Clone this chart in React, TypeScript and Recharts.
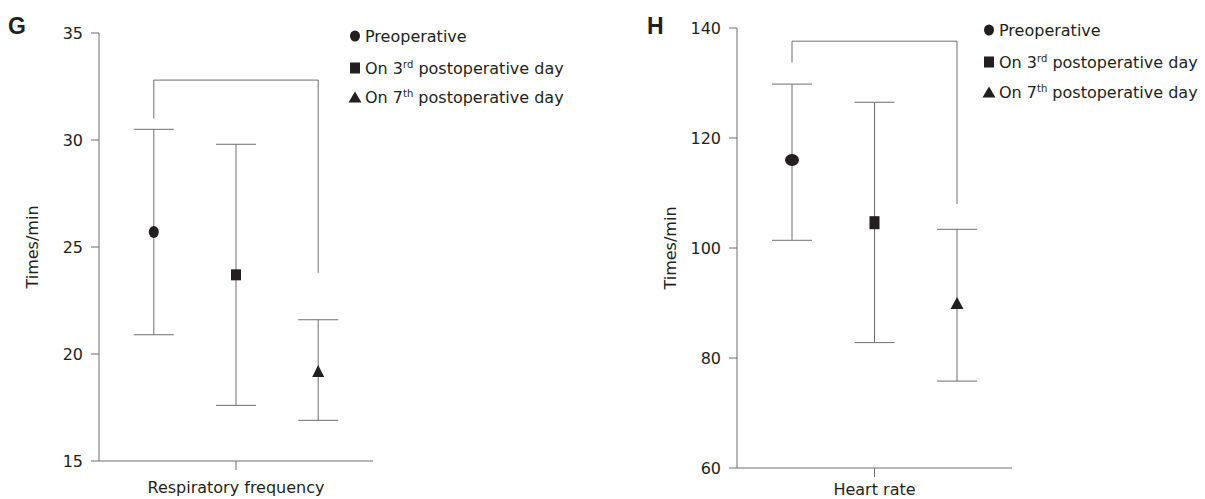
import React from "react";
import {
  ComposedChart,
  Scatter,
  ErrorBar,
  XAxis,
  YAxis,
  ReferenceLine,
} from "recharts";

const groups = [
  "Preoperative",
  "On 3rd postoperative day",
  "On 7th postoperative day",
];
const positions = [1, 2, 3];

// respiratory frequency (times/min)
const respMean = [25.7, 23.7, 19.2];
const respLow = [20.9, 17.6, 16.9];
const respHigh = [30.5, 29.8, 21.6];
const respTicks = [15, 20, 25, 30, 35];
const respBracket = [32.8, 31.0, 23.8]; // top, left end, right end

// heart rate (times/min)
const hrMean = [116, 104.6, 90];
const hrLow = [101.4, 82.8, 75.8];
const hrHigh = [129.8, 126.5, 103.4];
const hrTicks = [60, 80, 100, 120, 140];
const hrBracket = [137.6, 133.7, 108];

const INK = "#231f20";
const LINE = "#6d6e71";
const FONT = "'DejaVu Sans', Verdana, sans-serif";

type Kind = "circle" | "square" | "triangle";
const kinds: Kind[] = ["circle", "square", "triangle"];

const marker = (kind: Kind, w: number, h: number) => (props: any) => {
  const { cx, cy } = props;
  if (cx == null || cy == null) return <g />;
  if (kind === "circle")
    return <ellipse cx={cx} cy={cy} rx={w / 2} ry={h / 2} fill={INK} />;
  if (kind === "square")
    return <rect x={cx - w / 2} y={cy - h / 2} width={w} height={h} fill={INK} />;
  return (
    <path
      d={`M${cx},${cy - h / 2}L${cx + w / 2},${cy + h / 2}L${cx - w / 2},${cy + h / 2}Z`}
      fill={INK}
    />
  );
};

const seriesData = (mean: number[], low: number[], high: number[], i: number) => [
  { pos: positions[i], value: mean[i], err: [mean[i] - low[i], high[i] - mean[i]] },
];

const yLabel = (x: number) => (props: any) => {
  const vb = props.viewBox || {};
  const cy = (vb.y ?? 0) + (vb.height ?? 0) / 2;
  return (
    <text
      x={x}
      y={cy}
      transform={`rotate(-90, ${x}, ${cy})`}
      textAnchor="middle"
      dominantBaseline="central"
      fontSize={16}
      fill={INK}
      fontFamily={FONT}
    >
      Times/min
    </text>
  );
};

interface PanelProps {
  left: number;
  width: number;
  margin: { top: number; right: number; bottom: number; left: number };
  yWidth: number;
  domain: [number, number];
  ticks: number[];
  mean: number[];
  low: number[];
  high: number[];
  bracket: number[];
  title: string;
  tickMargin: number;
  sizes: [number, number][];
}

function Panel(p: PanelProps) {
  return (
    <div style={{ position: "absolute", left: p.left, top: 0 }}>
      <ComposedChart width={p.width} height={499} margin={p.margin}>
        <XAxis
          dataKey="pos"
          type="number"
          domain={[1 / 3, 11 / 3]}
          ticks={[2]}
          tickFormatter={() => p.title}
          allowDataOverflow
          height={30}
          stroke={LINE}
          tickSize={9}
          tickMargin={p.tickMargin}
          tick={{ fontSize: 16, fill: INK, fontFamily: FONT }}
        />
        <YAxis
          dataKey="value"
          type="number"
          domain={p.domain}
          ticks={p.ticks}
          width={p.yWidth}
          stroke={LINE}
          tickSize={8}
          tickMargin={8}
          tick={{ fontSize: 16, fill: INK, fontFamily: FONT }}
          label={{ content: yLabel(p.margin.left + p.yWidth - 67) }}
          allowDataOverflow
        />
        <ReferenceLine
          segment={[
            { x: positions[0], y: p.bracket[0] },
            { x: positions[2], y: p.bracket[0] },
          ]}
          stroke={LINE}
          ifOverflow="visible"
        />
        <ReferenceLine
          segment={[
            { x: positions[0], y: p.bracket[0] },
            { x: positions[0], y: p.bracket[1] },
          ]}
          stroke={LINE}
          ifOverflow="visible"
        />
        <ReferenceLine
          segment={[
            { x: positions[2], y: p.bracket[0] },
            { x: positions[2], y: p.bracket[2] },
          ]}
          stroke={LINE}
          ifOverflow="visible"
        />
        {groups.map((g, i) => (
          <Scatter
            key={g}
            name={g}
            data={seriesData(p.mean, p.low, p.high, i)}
            shape={marker(kinds[i], p.sizes[i][0], p.sizes[i][1])}
            isAnimationActive={false}
          >
            <ErrorBar
              dataKey="err"
              direction="y"
              width={20}
              stroke={LINE}
              strokeWidth={1}
            />
          </Scatter>
        ))}
      </ComposedChart>
    </div>
  );
}

const LegendIcon = ({ kind }: { kind: Kind }) => (
  <svg width={14} height={12} style={{ display: "block" }}>
    {kind === "circle" && <ellipse cx={7} cy={6} rx={5} ry={5.5} fill={INK} />}
    {kind === "square" && <rect x={2} y={0.5} width={10} height={11} fill={INK} />}
    {kind === "triangle" && <path d="M7,0.5L13.5,11.5L0.5,11.5Z" fill={INK} />}
  </svg>
);

const legendText = [
  <>Preoperative</>,
  <>
    On 3<sup style={{ fontSize: 10, lineHeight: 0 }}>rd</sup> postoperative day
  </>,
  <>
    On 7<sup style={{ fontSize: 10, lineHeight: 0 }}>th</sup> postoperative day
  </>,
];

function LegendBox({ x, rows }: { x: number; rows: number[] }) {
  return (
    <>
      {kinds.map((k, i) => (
        <div
          key={k}
          style={{
            position: "absolute",
            left: x - 7,
            top: rows[i] - 11,
            height: 22,
            display: "flex",
            alignItems: "center",
            fontFamily: FONT,
            fontSize: 16,
            color: INK,
            whiteSpace: "nowrap",
          }}
        >
          <LegendIcon kind={k} />
          <span style={{ marginLeft: 3 }}>{legendText[i]}</span>
        </div>
      ))}
    </>
  );
}

const letterStyle: React.CSSProperties = {
  position: "absolute",
  top: 13,
  fontFamily: "'Liberation Sans', Arial, sans-serif",
  fontWeight: "bold",
  fontSize: 23,
  color: INK,
  lineHeight: "26px",
};

export default function App() {
  return (
    <div
      style={{
        position: "absolute",
        left: 0,
        top: 0,
        width: 1205,
        height: 499,
        background: "#fff",
        overflow: "hidden",
      }}
    >
      <Panel
        left={0}
        width={630}
        margin={{ top: 33, right: 257, bottom: 8, left: 0 }}
        yWidth={99}
        domain={[15, 35]}
        ticks={respTicks}
        mean={respMean}
        low={respLow}
        high={respHigh}
        bracket={respBracket}
        title="Respiratory frequency"
        tickMargin={12}
        sizes={[
          [10, 12],
          [10, 11],
          [12, 12],
        ]}
      />
      <Panel
        left={630}
        width={575}
        margin={{ top: 28, right: 193, bottom: 1, left: 0 }}
        yWidth={107}
        domain={[60, 140]}
        ticks={hrTicks}
        mean={hrMean}
        low={hrLow}
        high={hrHigh}
        bracket={hrBracket}
        title="Heart rate"
        tickMargin={7}
        sizes={[
          [14, 12],
          [10, 13],
          [13, 12],
        ]}
      />
      <div style={{ ...letterStyle, left: 8 }}>G</div>
      <div style={{ ...letterStyle, left: 647 }}>H</div>
      <LegendBox x={355} rows={[36, 68, 97]} />
      <LegendBox x={989} rows={[30, 62, 92]} />
    </div>
  );
}
